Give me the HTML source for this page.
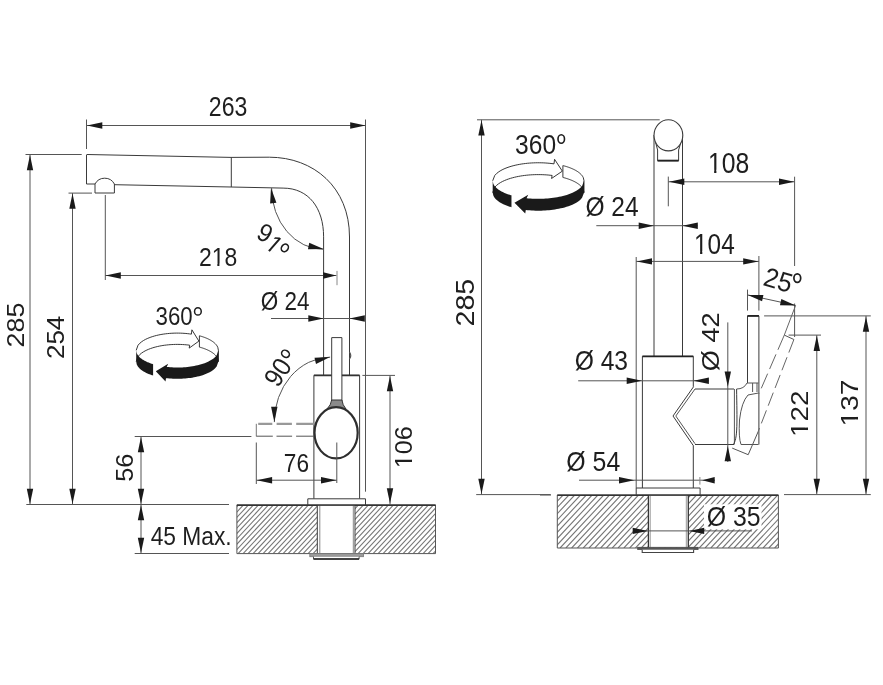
<!DOCTYPE html>
<html><head><meta charset="utf-8"><style>
html,body{margin:0;padding:0;background:#fff;}
svg{display:block;will-change:transform;font-family:"Liberation Sans",sans-serif;}
</style></head><body>
<svg width="883" height="685" viewBox="0 0 883 685">
<rect width="883" height="685" fill="#fff"/>
<line x1="86.5" y1="119.5" x2="86.5" y2="149" stroke="#555" stroke-width="1" />
<line x1="365.5" y1="119.5" x2="365.5" y2="491.7" stroke="#555" stroke-width="1" />
<line x1="87" y1="125.5" x2="365.5" y2="125.5" stroke="#555" stroke-width="1" />
<path d="M87.00,125.50L102.30,122.30L102.30,128.70Z" fill="#1a1a1a"/>
<path d="M365.50,125.50L350.20,128.70L350.20,122.30Z" fill="#1a1a1a"/>
<g transform="translate(208.84,116.32) scale(0.837,1)"><text font-size="27.61" fill="#1e1e1e">263</text></g>
<line x1="25.5" y1="154.5" x2="81.7" y2="154.5" stroke="#555" stroke-width="1" />
<line x1="30" y1="154.5" x2="30" y2="504.4" stroke="#555" stroke-width="1" />
<path d="M30.00,155.00L33.20,170.30L26.80,170.30Z" fill="#1a1a1a"/>
<path d="M30.00,504.00L26.80,488.70L33.20,488.70Z" fill="#1a1a1a"/>
<g transform="translate(24.26,347.45) rotate(-90) scale(1.138,1)"><text font-size="23.66" fill="#1e1e1e">285</text></g>
<line x1="68.5" y1="193.1" x2="92" y2="193.1" stroke="#555" stroke-width="1" />
<line x1="72.5" y1="193.1" x2="72.5" y2="504.4" stroke="#555" stroke-width="1" />
<path d="M72.50,193.50L75.70,208.80L69.30,208.80Z" fill="#1a1a1a"/>
<path d="M72.50,504.00L69.30,488.70L75.70,488.70Z" fill="#1a1a1a"/>
<g transform="translate(64.17,359.10) rotate(-90) scale(1.128,1)"><text font-size="23.10" fill="#1e1e1e">254</text></g>
<line x1="26.3" y1="504.5" x2="229" y2="504.5" stroke="#555" stroke-width="1" />
<path d="M87,154.5 L231,157.4 L269.3,157.2 C313.6,157.2 349.5,187.3 349.5,237 L349.5,375" stroke="#3a3a3a" stroke-width="1" fill="none" />
<path d="M86.5,154.5 L86.5,184 L95,184" stroke="#3a3a3a" stroke-width="1" fill="none" />
<path d="M95,193 L95,184 A11,11 0 0 1 114.4,184 L114.4,193 Z" stroke="#3a3a3a" stroke-width="1" fill="#fff" />
<path d="M114.4,184.7 L231,187 L283.1,188.1 C308.6,188.1 323.6,208 323.6,236.8 L323.6,375" stroke="#3a3a3a" stroke-width="1" fill="none" />
<line x1="231.3" y1="157.5" x2="231.3" y2="187" stroke="#3a3a3a" stroke-width="1" />
<line x1="105.3" y1="195" x2="105.3" y2="280" stroke="#555" stroke-width="1" />
<line x1="105.3" y1="275.5" x2="336.5" y2="275.5" stroke="#555" stroke-width="1" />
<path d="M105.50,275.50L120.80,272.30L120.80,278.70Z" fill="#1a1a1a"/>
<path d="M336.20,275.50L323.20,278.70L323.20,272.30Z" fill="#1a1a1a"/>
<line x1="337" y1="270.9" x2="337" y2="285.2" stroke="#888" stroke-width="1" />
<g transform="translate(198.90,266.23) scale(0.862,1)"><text font-size="26.62" fill="#1e1e1e">218</text><rect x="15.60" y="-2.53" width="5.78" height="3.46" fill="#fff"/><rect x="23.80" y="-2.53" width="5.91" height="3.46" fill="#fff"/></g>
<path d="M271.6,188.1 A52.2,61.3 0 0 0 323.8,249.4" stroke="#555" stroke-width="1" fill="none" />
<path d="M271.00,188.00L276.43,202.66L270.11,203.61Z" fill="#1a1a1a"/>
<path d="M323.60,249.00L307.97,249.14L309.22,242.86Z" fill="#1a1a1a"/>
<g transform="translate(255.00,237.50) rotate(28) scale(0.950,1)"><text font-size="25.50" fill="#1e1e1e">9</text></g>
<g transform="translate(264.10,246.70) rotate(41) scale(0.900,1)"><text font-size="25.00" fill="#1e1e1e">1</text><rect x="0.75" y="-2.38" width="5.42" height="3.25" fill="#fff"/><rect x="8.45" y="-2.38" width="5.55" height="3.25" fill="#fff"/></g>
<ellipse cx="284.85" cy="247.9" rx="3.3" ry="4.0" transform="rotate(35 284.85 247.9)" fill="none" stroke="#1e1e1e" stroke-width="1.6"/>
<line x1="271" y1="318.5" x2="364" y2="318.5" stroke="#555" stroke-width="1" />
<path d="M323.60,318.50L308.30,321.70L308.30,315.30Z" fill="#1a1a1a"/>
<path d="M349.50,318.50L364.80,315.30L364.80,321.70Z" fill="#1a1a1a"/>
<g transform="translate(260.71,310.14) scale(0.850,1)"><text font-size="26.44" fill="#1e1e1e">Ø 24</text></g>
<g transform="translate(155.61,325.34) scale(0.850,1)"><text font-size="26.20" fill="#1e1e1e">360</text></g>
<ellipse cx="197.9" cy="311.4" rx="3.35" ry="3.65" fill="none" stroke="#1e1e1e" stroke-width="1.5"/>
<path d="M136.20,350.30 L138.04,345.21 L139.88,343.19 L141.72,341.69 L143.56,340.48 L145.40,339.45 L147.24,338.57 L149.08,337.80 L150.92,337.11 L152.76,336.50 L154.60,335.96 L156.44,335.48 L158.28,335.05 L160.12,334.67 L161.96,334.34 L163.80,334.05 L165.64,333.81 L167.48,333.60 L169.32,333.43 L171.16,333.29 L173.00,333.19 L174.84,333.13 L176.68,333.10 L178.52,333.11 L180.36,333.15 L182.20,333.22 L184.04,333.33 L185.88,333.48 L187.72,333.66 L189.56,333.88 L191.40,334.14 L191.90,329.80 L198.90,341.10 L189.20,348.10 L189.70,345.20  L189.70,345.20 L187.92,344.98 L186.13,344.80 L184.35,344.65 L182.57,344.54 L180.78,344.46 L179.00,344.41 L177.22,344.40 L175.43,344.42 L173.65,344.47 L171.87,344.55 L170.08,344.67 L168.30,344.82 L166.52,345.00 L164.73,345.22 L162.95,345.48 L161.17,345.78 L159.38,346.12 L157.60,346.50 L155.82,346.94 L154.03,347.42 L152.25,347.96 L150.47,348.57 L148.68,349.25 L146.90,350.02 L145.12,350.90 L143.33,351.92 L141.55,353.11 L139.77,354.59 L137.98,356.59 L136.20,361.60" fill="#fff" stroke="#222" stroke-width="0.9"/>
<path d="M199.40,335.80 L200.03,335.97 L200.67,336.15 L201.30,336.34 L201.93,336.53 L202.57,336.73 L203.20,336.94 L203.83,337.16 L204.47,337.39 L205.10,337.63 L205.73,337.88 L206.37,338.14 L207.00,338.41 L207.63,338.69 L208.27,338.99 L208.90,339.30 L209.53,339.63 L210.17,339.97 L210.80,340.34 L211.43,340.72 L212.07,341.13 L212.70,341.56 L213.33,342.03 L213.97,342.53 L214.60,343.08 L215.23,343.68 L215.87,344.35 L216.50,345.13 L217.13,346.06 L217.77,347.29 L218.40,350.30 L218.40,361.60  L218.40,361.60 L217.77,358.59 L217.13,357.36 L216.50,356.43 L215.87,355.65 L215.23,354.98 L214.60,354.38 L213.97,353.83 L213.33,353.33 L212.70,352.86 L212.07,352.43 L211.43,352.02 L210.80,351.64 L210.17,351.27 L209.53,350.93 L208.90,350.60 L208.27,350.29 L207.63,349.99 L207.00,349.71 L206.37,349.44 L205.73,349.18 L205.10,348.93 L204.47,348.69 L203.83,348.46 L203.20,348.24 L202.57,348.03 L201.93,347.83 L201.30,347.64 L200.67,347.45 L200.03,347.27 L199.40,347.10 Z" fill="#fff" stroke="#222" stroke-width="0.9"/>
<path d="M155.80,371.30 L168.20,363.70 L166.70,366.92  L166.70,366.92 L168.42,367.09 L170.15,367.24 L171.87,367.35 L173.59,367.43 L175.32,367.48 L177.04,367.50 L178.76,367.49 L180.49,367.45 L182.21,367.38 L183.93,367.27 L185.66,367.14 L187.38,366.97 L189.10,366.78 L190.83,366.54 L192.55,366.27 L194.27,365.96 L196.00,365.62 L197.72,365.23 L199.44,364.79 L201.17,364.30 L202.89,363.76 L204.61,363.15 L206.34,362.47 L208.06,361.71 L209.78,360.84 L211.51,359.83 L213.23,358.65 L214.95,357.19 L216.68,355.23 L218.40,350.30  L218.40,361.60 L216.65,366.56 L214.91,368.54 L213.16,370.00 L211.41,371.19 L209.67,372.20 L207.92,373.07 L206.17,373.84 L204.43,374.52 L202.68,375.13 L200.93,375.67 L199.19,376.16 L197.44,376.59 L195.69,376.98 L193.95,377.33 L192.20,377.63 L190.45,377.90 L188.71,378.12 L186.96,378.32 L185.21,378.48 L183.47,378.61 L181.72,378.70 L179.97,378.76 L178.23,378.80 L176.48,378.80 L174.73,378.77 L172.99,378.71 L171.24,378.61 L169.49,378.49 L167.75,378.33 L166.00,378.14 L165.50,381.50 Z" fill="#1a1a1a"/>
<path d="M136.20,350.30 L136.76,353.14 L137.33,354.30 L137.89,355.18 L138.45,355.92 L139.02,356.56 L139.58,357.13 L140.14,357.65 L140.71,358.13 L141.27,358.58 L141.83,358.99 L142.40,359.38 L142.96,359.75 L143.52,360.10 L144.09,360.43 L144.65,360.75 L145.21,361.05 L145.78,361.34 L146.34,361.61 L146.90,361.88 L147.47,362.13 L148.03,362.37 L148.59,362.61 L149.16,362.83 L149.72,363.05 L150.28,363.26 L150.85,363.46 L151.41,363.66 L151.97,363.85 L152.54,364.03 L153.10,364.20  L153.10,375.50 L152.54,375.33 L151.97,375.15 L151.41,374.96 L150.85,374.76 L150.28,374.56 L149.72,374.35 L149.16,374.13 L148.59,373.91 L148.03,373.67 L147.47,373.43 L146.90,373.18 L146.34,372.91 L145.78,372.64 L145.21,372.35 L144.65,372.05 L144.09,371.73 L143.52,371.40 L142.96,371.05 L142.40,370.68 L141.83,370.29 L141.27,369.88 L140.71,369.43 L140.14,368.95 L139.58,368.43 L139.02,367.86 L138.45,367.22 L137.89,366.48 L137.33,365.60 L136.76,364.44 L136.20,361.60 Z" fill="#1a1a1a"/>
<path d="M313.9,498.8 L313.9,375.4 L359.6,375.4 L359.6,498.8" stroke="#3a3a3a" stroke-width="1" fill="none" />
<line x1="313.9" y1="375.4" x2="359.6" y2="375.4" stroke="#333" stroke-width="1.8" />
<path d="M331.7,401 L331.7,337.6 L341.9,337.6 L341.9,401" stroke="#3a3a3a" stroke-width="1" fill="#fff" />
<path d="M331.7,400 Q331,405 327,409 L346,409 Q342.5,405 341.9,400 Z" stroke="#333" stroke-width="1" fill="#8a8a8a" />
<path d="M349.5,352 Q352,355.6 349.5,359" stroke="#555" stroke-width="1.2" fill="none" />
<ellipse cx="336.1" cy="432.8" rx="21.6" ry="25.6" fill="#fff" stroke="#2e2e2e" stroke-width="2.2"/>
<line x1="336.8" y1="442.5" x2="336.8" y2="483" stroke="#555" stroke-width="1" />
<path d="M256.3,423.8 L256.3,436.4" stroke="#777" stroke-width="1" fill="none" />
<path d="M258.2,423.9 L314,423.9" stroke="#999" stroke-width="2.2" fill="none" stroke-dasharray="14.1,4.3,15.3,4.3,30,0"/>
<path d="M256.3,436.2 L314,436.2" stroke="#555" stroke-width="1" fill="none" stroke-dasharray="16.5,3.7,15.6,4,30,0"/>
<line x1="134.7" y1="436.5" x2="251.4" y2="436.5" stroke="#555" stroke-width="1" />
<line x1="141" y1="436.5" x2="141" y2="553.4" stroke="#555" stroke-width="1" />
<path d="M141.00,437.00L144.20,452.30L137.80,452.30Z" fill="#1a1a1a"/>
<path d="M141.00,504.00L137.80,488.70L144.20,488.70Z" fill="#1a1a1a"/>
<path d="M141.00,505.00L144.20,520.30L137.80,520.30Z" fill="#1a1a1a"/>
<path d="M141.00,553.00L137.80,537.70L144.20,537.70Z" fill="#1a1a1a"/>
<g transform="translate(133.07,481.82) rotate(-90) scale(1.105,1)"><text font-size="23.10" fill="#1e1e1e">56</text></g>
<line x1="134.7" y1="553.5" x2="229" y2="553.5" stroke="#555" stroke-width="1" />
<g transform="translate(150.64,544.74) scale(0.867,1)"><text font-size="26.29" fill="#1e1e1e">45 Max.</text></g>
<line x1="256.3" y1="442.5" x2="256.3" y2="484" stroke="#555" stroke-width="1" />
<line x1="256.3" y1="480.2" x2="336.8" y2="480.2" stroke="#555" stroke-width="1" />
<path d="M256.80,480.20L272.10,477.00L272.10,483.40Z" fill="#1a1a1a"/>
<path d="M336.30,480.20L321.00,483.40L321.00,477.00Z" fill="#1a1a1a"/>
<g transform="translate(283.87,472.34) scale(0.860,1)"><text font-size="26.34" fill="#1e1e1e">76</text></g>
<line x1="362.4" y1="375.4" x2="395" y2="375.4" stroke="#555" stroke-width="1" />
<line x1="390" y1="375.4" x2="390" y2="504.5" stroke="#555" stroke-width="1" />
<path d="M390.00,376.00L393.20,391.30L386.80,391.30Z" fill="#1a1a1a"/>
<path d="M390.00,503.50L386.80,488.20L393.20,488.20Z" fill="#1a1a1a"/>
<g transform="translate(412.17,468.19) rotate(-90) scale(1.089,1)"><text font-size="23.10" fill="#1e1e1e">106</text><rect x="0.69" y="-2.19" width="5.01" height="3.00" fill="#fff"/><rect x="7.81" y="-2.19" width="5.13" height="3.00" fill="#fff"/></g>
<path d="M330.1,357.1 A56.8,65 0 0 0 274.3,422.1" stroke="#555" stroke-width="1" fill="none" />
<path d="M330.10,357.10L316.03,363.92L314.48,357.71Z" fill="#1a1a1a"/>
<path d="M274.30,422.10L271.10,406.80L277.50,406.80Z" fill="#1a1a1a"/>
<g transform="translate(278.00,388.50) rotate(-57) scale(0.920,1)"><text font-size="26.50" fill="#1e1e1e">90</text></g>
<ellipse cx="285.5" cy="353.8" rx="3.3" ry="4.1" transform="rotate(-57 285.5 353.8)" fill="none" stroke="#1e1e1e" stroke-width="1.6"/>
<clipPath id="c75"><rect x="236.9" y="504.9" width="198.6" height="48.700000000000045"/></clipPath>
<path d="M193.09,553.6L238.50,504.9M198.09,553.6L243.50,504.9M203.09,553.6L248.50,504.9M208.09,553.6L253.50,504.9M213.09,553.6L258.50,504.9M218.09,553.6L263.50,504.9M223.09,553.6L268.50,504.9M228.09,553.6L273.50,504.9M233.09,553.6L278.50,504.9M238.09,553.6L283.50,504.9M243.09,553.6L288.50,504.9M248.09,553.6L293.50,504.9M253.09,553.6L298.50,504.9M258.09,553.6L303.50,504.9M263.09,553.6L308.50,504.9M268.09,553.6L313.50,504.9M273.09,553.6L318.50,504.9M278.09,553.6L323.50,504.9M283.09,553.6L328.50,504.9M288.09,553.6L333.50,504.9M293.09,553.6L338.50,504.9M298.09,553.6L343.50,504.9M303.09,553.6L348.50,504.9M308.09,553.6L353.50,504.9M313.09,553.6L358.50,504.9M318.09,553.6L363.50,504.9M323.09,553.6L368.50,504.9M328.09,553.6L373.50,504.9M333.09,553.6L378.50,504.9M338.09,553.6L383.50,504.9M343.09,553.6L388.50,504.9M348.09,553.6L393.50,504.9M353.09,553.6L398.50,504.9M358.09,553.6L403.50,504.9M363.09,553.6L408.50,504.9M368.09,553.6L413.50,504.9M373.09,553.6L418.50,504.9M378.09,553.6L423.50,504.9M383.09,553.6L428.50,504.9M388.09,553.6L433.50,504.9M393.09,553.6L438.50,504.9M398.09,553.6L443.50,504.9M403.09,553.6L448.50,504.9M408.09,553.6L453.50,504.9M413.09,553.6L458.50,504.9M418.09,553.6L463.50,504.9M423.09,553.6L468.50,504.9M428.09,553.6L473.50,504.9M433.09,553.6L478.50,504.9" stroke="#777" stroke-width="1.1" clip-path="url(#c75)"/>
<path d="M236.9,504.9 H435.5 V553.6 H236.9 Z" stroke="#555" stroke-width="1" fill="none" />
<line x1="236.9" y1="505.2" x2="435.5" y2="505.2" stroke="#333" stroke-width="1.6" />
<rect x="317.3" y="505.5" width="37.7" height="47.6" fill="#fff"/>
<line x1="317.3" y1="504.9" x2="317.3" y2="553.6" stroke="#3a3a3a" stroke-width="1" />
<line x1="319.8" y1="504.9" x2="319.8" y2="553.6" stroke="#888" stroke-width="1" />
<line x1="353.3" y1="504.9" x2="353.3" y2="553.6" stroke="#888" stroke-width="1" />
<line x1="355" y1="504.9" x2="355" y2="553.6" stroke="#3a3a3a" stroke-width="1" />
<path d="M307.8,505 V498.8 H365.5 V505" stroke="#3a3a3a" stroke-width="1" fill="#fff" />
<line x1="307.8" y1="505" x2="365.5" y2="505" stroke="#333" stroke-width="1.4" />
<rect x="309.8" y="553.6" width="53.8" height="3.1" fill="#9a9a9a" stroke="#777" stroke-width="0.8"/>
<path d="M313.5,556.7 V559 H359.1 V556.7" stroke="#555" stroke-width="1" fill="#fff" />
<line x1="313.5" y1="559" x2="359.1" y2="559" stroke="#222" stroke-width="1.6" />
<line x1="477" y1="119.8" x2="659.7" y2="119.8" stroke="#555" stroke-width="1" />
<line x1="481.5" y1="119.8" x2="481.5" y2="494.6" stroke="#555" stroke-width="1" />
<path d="M481.50,120.30L484.70,135.60L478.30,135.60Z" fill="#1a1a1a"/>
<path d="M481.50,494.00L478.30,478.70L484.70,478.70Z" fill="#1a1a1a"/>
<line x1="476.2" y1="494.6" x2="550.7" y2="494.6" stroke="#555" stroke-width="1" />
<g transform="translate(473.65,326.43) rotate(-90) scale(1.127,1)"><text font-size="25.35" fill="#1e1e1e">285</text></g>
<g transform="translate(515.12,153.72) scale(0.869,1)"><text font-size="28.31" fill="#1e1e1e">360</text></g>
<ellipse cx="561.25" cy="138.95" rx="3.25" ry="4.25" fill="none" stroke="#1e1e1e" stroke-width="1.6"/>
<path d="M492.70,180.79 L494.74,175.46 L496.79,173.33 L498.83,171.77 L500.87,170.49 L502.92,169.42 L504.96,168.49 L507.01,167.68 L509.05,166.96 L511.09,166.33 L513.14,165.76 L515.18,165.25 L517.22,164.81 L519.27,164.41 L521.31,164.06 L523.36,163.76 L525.40,163.50 L527.44,163.28 L529.49,163.10 L531.53,162.96 L533.57,162.86 L535.62,162.79 L537.66,162.76 L539.71,162.77 L541.75,162.81 L543.79,162.89 L545.84,163.00 L547.88,163.16 L549.92,163.35 L551.97,163.58 L554.01,163.85 L554.57,159.30 L562.34,171.15 L551.57,178.48 L552.12,175.45  L552.12,175.45 L550.14,175.22 L548.16,175.03 L546.18,174.87 L544.20,174.75 L542.22,174.67 L540.24,174.62 L538.26,174.61 L536.28,174.62 L534.30,174.68 L532.32,174.76 L530.33,174.89 L528.35,175.04 L526.37,175.24 L524.39,175.47 L522.41,175.74 L520.43,176.05 L518.45,176.41 L516.47,176.81 L514.49,177.27 L512.51,177.77 L510.53,178.34 L508.55,178.98 L506.57,179.69 L504.58,180.50 L502.60,181.42 L500.62,182.49 L498.64,183.74 L496.66,185.29 L494.68,187.38 L492.70,192.64" fill="#fff" stroke="#222" stroke-width="0.9"/>
<path d="M562.90,165.59 L563.60,165.77 L564.30,165.96 L565.01,166.15 L565.71,166.36 L566.41,166.57 L567.12,166.79 L567.82,167.02 L568.52,167.26 L569.23,167.51 L569.93,167.77 L570.63,168.04 L571.34,168.33 L572.04,168.62 L572.74,168.94 L573.45,169.26 L574.15,169.60 L574.86,169.96 L575.56,170.34 L576.26,170.75 L576.97,171.17 L577.67,171.63 L578.37,172.12 L579.08,172.65 L579.78,173.22 L580.48,173.85 L581.19,174.56 L581.89,175.37 L582.59,176.35 L583.30,177.64 L584.00,180.79 L584.00,192.64  L584.00,192.64 L583.30,189.48 L582.59,188.20 L581.89,187.22 L581.19,186.40 L580.48,185.70 L579.78,185.07 L579.08,184.49 L578.37,183.96 L577.67,183.48 L576.97,183.02 L576.26,182.59 L575.56,182.19 L574.86,181.81 L574.15,181.45 L573.45,181.11 L572.74,180.78 L572.04,180.47 L571.34,180.17 L570.63,179.89 L569.93,179.62 L569.23,179.36 L568.52,179.11 L567.82,178.87 L567.12,178.64 L566.41,178.42 L565.71,178.20 L565.01,178.00 L564.30,177.80 L563.60,177.62 L562.90,177.43 Z" fill="#fff" stroke="#222" stroke-width="0.9"/>
<path d="M514.47,202.81 L528.24,194.84 L526.58,198.21  L526.58,198.21 L528.49,198.40 L530.40,198.55 L532.32,198.66 L534.23,198.75 L536.15,198.80 L538.06,198.82 L539.98,198.81 L541.89,198.77 L543.80,198.69 L545.72,198.59 L547.63,198.45 L549.55,198.27 L551.46,198.06 L553.37,197.82 L555.29,197.54 L557.20,197.21 L559.12,196.85 L561.03,196.44 L562.94,195.98 L564.86,195.47 L566.77,194.90 L568.69,194.27 L570.60,193.55 L572.52,192.75 L574.43,191.84 L576.34,190.79 L578.26,189.55 L580.17,188.02 L582.09,185.96 L584.00,180.79  L584.00,192.64 L582.06,197.84 L580.12,199.91 L578.18,201.45 L576.24,202.69 L574.30,203.75 L572.36,204.67 L570.42,205.47 L568.48,206.18 L566.54,206.82 L564.60,207.39 L562.66,207.90 L560.72,208.36 L558.78,208.76 L556.84,209.12 L554.90,209.44 L552.96,209.72 L551.02,209.96 L549.08,210.16 L547.14,210.33 L545.20,210.47 L543.26,210.56 L541.32,210.63 L539.38,210.66 L537.44,210.67 L535.50,210.63 L533.56,210.57 L531.62,210.47 L529.68,210.34 L527.74,210.18 L525.80,209.97 L525.24,213.50 Z" fill="#1a1a1a"/>
<path d="M492.70,180.79 L493.33,183.77 L493.95,184.98 L494.58,185.91 L495.20,186.68 L495.83,187.35 L496.45,187.95 L497.08,188.50 L497.71,189.00 L498.33,189.47 L498.96,189.90 L499.58,190.31 L500.21,190.70 L500.83,191.06 L501.46,191.41 L502.09,191.74 L502.71,192.06 L503.34,192.36 L503.96,192.65 L504.59,192.93 L505.21,193.19 L505.84,193.45 L506.47,193.70 L507.09,193.93 L507.72,194.16 L508.34,194.38 L508.97,194.59 L509.59,194.80 L510.22,194.99 L510.85,195.18 L511.47,195.37  L511.47,207.21 L510.85,207.03 L510.22,206.84 L509.59,206.64 L508.97,206.44 L508.34,206.23 L507.72,206.01 L507.09,205.78 L506.47,205.54 L505.84,205.30 L505.21,205.04 L504.59,204.77 L503.96,204.50 L503.34,204.21 L502.71,203.91 L502.09,203.59 L501.46,203.26 L500.83,202.91 L500.21,202.55 L499.58,202.16 L498.96,201.75 L498.33,201.31 L497.71,200.85 L497.08,200.34 L496.45,199.80 L495.83,199.20 L495.20,198.53 L494.58,197.76 L493.95,196.83 L493.33,195.61 L492.70,192.64 Z" fill="#1a1a1a"/>
<path d="M654,135 V356.3" stroke="#3a3a3a" stroke-width="1" fill="none" />
<path d="M682.5,135 V356.3" stroke="#3a3a3a" stroke-width="1" fill="none" />
<path d="M655.5,142 L657.6,150 V160.8 H678.6 V150 L681,142" stroke="#3a3a3a" stroke-width="1" fill="#fff" />
<line x1="657.6" y1="160.6" x2="678.6" y2="160.6" stroke="#222" stroke-width="1.8" />
<ellipse cx="668.4" cy="135.3" rx="14.4" ry="15.6" fill="#fff" stroke="#3a3a3a" stroke-width="1.1"/>
<line x1="668.3" y1="176.6" x2="668.3" y2="206.3" stroke="#555" stroke-width="1" />
<line x1="668.3" y1="181.8" x2="794.6" y2="181.8" stroke="#555" stroke-width="1" />
<path d="M669.00,181.80L684.30,178.60L684.30,185.00Z" fill="#1a1a1a"/>
<path d="M794.30,181.80L779.00,185.00L779.00,178.60Z" fill="#1a1a1a"/>
<line x1="794.6" y1="176.7" x2="794.6" y2="266" stroke="#555" stroke-width="1" />
<line x1="794.6" y1="303.5" x2="794.6" y2="337" stroke="#555" stroke-width="1" />
<g transform="translate(708.05,172.60) scale(0.831,1)"><text font-size="29.72" fill="#1e1e1e">108</text><rect x="0.89" y="-2.82" width="6.45" height="3.86" fill="#fff"/><rect x="10.04" y="-2.82" width="6.60" height="3.86" fill="#fff"/></g>
<line x1="596.3" y1="225.7" x2="697.5" y2="225.7" stroke="#555" stroke-width="1" />
<path d="M654.00,225.70L638.70,228.90L638.70,222.50Z" fill="#1a1a1a"/>
<path d="M682.50,225.70L697.80,222.50L697.80,228.90Z" fill="#1a1a1a"/>
<g transform="translate(585.44,215.81) scale(0.887,1)"><text font-size="27.65" fill="#1e1e1e">Ø 24</text></g>
<line x1="636.2" y1="257" x2="636.2" y2="488" stroke="#555" stroke-width="1" />
<line x1="758.9" y1="256" x2="758.9" y2="310.6" stroke="#555" stroke-width="1" />
<line x1="636.2" y1="261.4" x2="758.9" y2="261.4" stroke="#555" stroke-width="1" />
<path d="M636.70,261.40L652.00,258.20L652.00,264.60Z" fill="#1a1a1a"/>
<path d="M758.50,261.40L743.20,264.60L743.20,258.20Z" fill="#1a1a1a"/>
<g transform="translate(694.07,253.71) scale(0.840,1)"><text font-size="29.01" fill="#1e1e1e">104</text><rect x="0.87" y="-2.76" width="6.30" height="3.77" fill="#fff"/><rect x="9.81" y="-2.76" width="6.44" height="3.77" fill="#fff"/></g>
<line x1="747.5" y1="289.6" x2="747.5" y2="310.6" stroke="#555" stroke-width="1" />
<line x1="747.5" y1="294.9" x2="795.6" y2="305.4" stroke="#555" stroke-width="1" />
<path d="M747.80,294.90L763.43,295.03L762.07,301.29Z" fill="#1a1a1a"/>
<path d="M795.60,305.40L779.97,305.27L781.33,299.01Z" fill="#1a1a1a"/>
<text transform="translate(762,285) rotate(16) scale(0.95,1)" font-size="27" fill="#1e1e1e">25</text>
<ellipse cx="797.3" cy="278.1" rx="3.4" ry="4.3"  fill="none" stroke="#1e1e1e" stroke-width="1.7"/>
<line x1="764.1" y1="315.9" x2="870.8" y2="315.9" stroke="#555" stroke-width="1" />
<path d="M747.5,383 V315.9 H758.9 V444.5" stroke="#3a3a3a" stroke-width="1" fill="#fff" />
<line x1="747.5" y1="315.9" x2="758.9" y2="315.9" stroke="#222" stroke-width="1.8" />
<path d="M642.4,488 V356.4 H693.3 V386.8" stroke="#3a3a3a" stroke-width="1" fill="none" />
<line x1="642.4" y1="356.4" x2="693.3" y2="356.4" stroke="#222" stroke-width="1.8" />
<path d="M693.3,445.9 V488" stroke="#3a3a3a" stroke-width="1" fill="none" />
<path d="M693.5,386.8 L673,416 L693.5,445.9" stroke="#3a3a3a" stroke-width="1" fill="none" />
<path d="M695,389 L675.8,416 L695,443.7" stroke="#555" stroke-width="1" fill="none" />
<path d="M695,389 H734 M695,444.5 H734" stroke="#3a3a3a" stroke-width="1" fill="none" />
<path d="M734.4,389 V444.5" stroke="#555" stroke-width="1" fill="none" />
<path d="M736.6,389 C737,420 738,440 733,444.5" stroke="#3a3a3a" stroke-width="1" fill="none" />
<path d="M747,383 H758.5 M752.6,383 V392 M757,383 V392" stroke="#555" stroke-width="1" fill="none" />
<path d="M736.6,389 Q744,389 747,383" stroke="#555" stroke-width="1" fill="none" />
<path d="M758.5,393 L748,395 Q741.5,402 739.5,420 Q738.5,438 741,444.5 H758.5" stroke="#555" stroke-width="1" fill="none" />
<path d="M732.2,448.1 L748.2,454.7 L758,432" stroke="#555" stroke-width="1" fill="none" />
<line x1="578.2" y1="380.8" x2="709" y2="380.8" stroke="#555" stroke-width="1" />
<path d="M642.00,380.80L626.70,384.00L626.70,377.60Z" fill="#1a1a1a"/>
<path d="M693.60,380.80L708.90,377.60L708.90,384.00Z" fill="#1a1a1a"/>
<g transform="translate(574.64,369.72) scale(0.909,1)"><text font-size="27.11" fill="#1e1e1e">Ø 43</text></g>
<line x1="727.8" y1="322.4" x2="727.8" y2="462" stroke="#555" stroke-width="1" />
<path d="M727.80,386.80L724.60,371.50L731.00,371.50Z" fill="#1a1a1a"/>
<path d="M727.80,445.90L731.00,461.20L724.60,461.20Z" fill="#1a1a1a"/>
<g transform="translate(719.38,371.25) rotate(-90) scale(1.102,1)"><text font-size="24.70" fill="#1e1e1e">Ø 42</text></g>
<line x1="579" y1="480.2" x2="715" y2="480.2" stroke="#555" stroke-width="1" />
<path d="M634.30,480.20L619.00,483.40L619.00,477.00Z" fill="#1a1a1a"/>
<path d="M702.20,480.20L714.70,477.00L714.70,483.40Z" fill="#1a1a1a"/>
<line x1="699.9" y1="477" x2="699.9" y2="484.6" stroke="#888" stroke-width="1" />
<g transform="translate(566.33,471.03) scale(0.926,1)"><text font-size="26.85" fill="#1e1e1e">Ø 54</text></g>
<clipPath id="c154"><rect x="557.3" y="495" width="221.10000000000002" height="53"/></clipPath>
<path d="M507.88,548L557.30,495M513.68,548L563.10,495M519.48,548L568.90,495M525.28,548L574.70,495M531.08,548L580.50,495M536.88,548L586.30,495M542.68,548L592.10,495M548.48,548L597.90,495M554.28,548L603.70,495M560.08,548L609.50,495M565.88,548L615.30,495M571.68,548L621.10,495M577.48,548L626.90,495M583.28,548L632.70,495M589.08,548L638.50,495M594.88,548L644.30,495M600.68,548L650.10,495M606.48,548L655.90,495M612.28,548L661.70,495M618.08,548L667.50,495M623.88,548L673.30,495M629.68,548L679.10,495M635.48,548L684.90,495M641.28,548L690.70,495M647.08,548L696.50,495M652.88,548L702.30,495M658.68,548L708.10,495M664.48,548L713.90,495M670.28,548L719.70,495M676.08,548L725.50,495M681.88,548L731.30,495M687.68,548L737.10,495M693.48,548L742.90,495M699.28,548L748.70,495M705.08,548L754.50,495M710.88,548L760.30,495M716.68,548L766.10,495M722.48,548L771.90,495M728.28,548L777.70,495M734.08,548L783.50,495M739.88,548L789.30,495M745.68,548L795.10,495M751.48,548L800.90,495M757.28,548L806.70,495M763.08,548L812.50,495M768.88,548L818.30,495M774.68,548L824.10,495" stroke="#777" stroke-width="1.1" clip-path="url(#c154)"/>
<path d="M557.3,495 H778.4 V548 H557.3 Z" stroke="#555" stroke-width="1" fill="none" />
<line x1="557.3" y1="495.3" x2="778.4" y2="495.3" stroke="#333" stroke-width="1.6" />
<rect x="648.4" y="495.5" width="39.9" height="52" fill="#fff"/>
<line x1="648.4" y1="495" x2="648.4" y2="547.6" stroke="#333" stroke-width="1.3" />
<line x1="650.2" y1="495" x2="650.2" y2="547.6" stroke="#999" stroke-width="1" />
<line x1="686.3" y1="495" x2="686.3" y2="547.6" stroke="#999" stroke-width="1" />
<line x1="688.3" y1="495" x2="688.3" y2="547.6" stroke="#333" stroke-width="1.3" />
<path d="M636.2,495 V488 H700.1 V495" stroke="#3a3a3a" stroke-width="1" fill="#fff" />
<line x1="636.2" y1="495" x2="700.1" y2="495" stroke="#333" stroke-width="1.4" />
<rect x="637.7" y="547.2" width="60.4" height="2.5" fill="#555" stroke="#444" stroke-width="0.6"/>
<path d="M642.2,549.7 V552.5 H693.6 V549.7" stroke="#444" stroke-width="1.1" fill="#fff" />
<line x1="540" y1="495" x2="551" y2="495" stroke="#555" stroke-width="1" />
<line x1="784" y1="494.6" x2="870.8" y2="494.6" stroke="#555" stroke-width="1" />
<rect x="704" y="504.3" width="57.5" height="25" fill="#fff"/>
<line x1="633.1" y1="530.9" x2="752" y2="530.9" stroke="#555" stroke-width="1" />
<path d="M648.00,530.90L632.70,534.10L632.70,527.70Z" fill="#1a1a1a"/>
<path d="M688.90,530.90L704.20,527.70L704.20,534.10Z" fill="#1a1a1a"/>
<g transform="translate(706.83,526.21) scale(0.898,1)"><text font-size="27.65" fill="#1e1e1e">Ø 35</text></g>
<line x1="788.6" y1="335.1" x2="821" y2="335.1" stroke="#555" stroke-width="1" />
<line x1="816.8" y1="335.1" x2="816.8" y2="494" stroke="#555" stroke-width="1" />
<path d="M816.80,335.60L820.00,350.90L813.60,350.90Z" fill="#1a1a1a"/>
<path d="M816.80,494.00L813.60,478.70L820.00,478.70Z" fill="#1a1a1a"/>
<g transform="translate(807.80,436.88) rotate(-90) scale(1.169,1)"><text font-size="23.71" fill="#1e1e1e">122</text><rect x="0.71" y="-2.25" width="5.15" height="3.08" fill="#fff"/><rect x="8.02" y="-2.25" width="5.26" height="3.08" fill="#fff"/></g>
<line x1="866" y1="315.9" x2="866" y2="494" stroke="#555" stroke-width="1" />
<path d="M866.00,316.40L869.20,331.70L862.80,331.70Z" fill="#1a1a1a"/>
<path d="M866.00,494.00L862.80,478.70L869.20,478.70Z" fill="#1a1a1a"/>
<g transform="translate(857.85,426.40) rotate(-90) scale(1.129,1)"><text font-size="24.79" fill="#1e1e1e">137</text><rect x="0.74" y="-2.35" width="5.38" height="3.22" fill="#fff"/><rect x="8.38" y="-2.35" width="5.50" height="3.22" fill="#fff"/></g>
<path d="M784.3,335.1 L793.9,339.5" stroke="#555" stroke-width="1" fill="none" />
<path d="M795.6,305.4 L784.3,335.1" stroke="#666" stroke-width="1" fill="none" />
<path d="M784.3,335.1 L759,393.6" stroke="#666" stroke-width="1" fill="none" stroke-dasharray="16,5"/>
<path d="M793.9,339.5 L758,432" stroke="#666" stroke-width="1" fill="none" stroke-dasharray="14,5"/>
</svg></body></html>
